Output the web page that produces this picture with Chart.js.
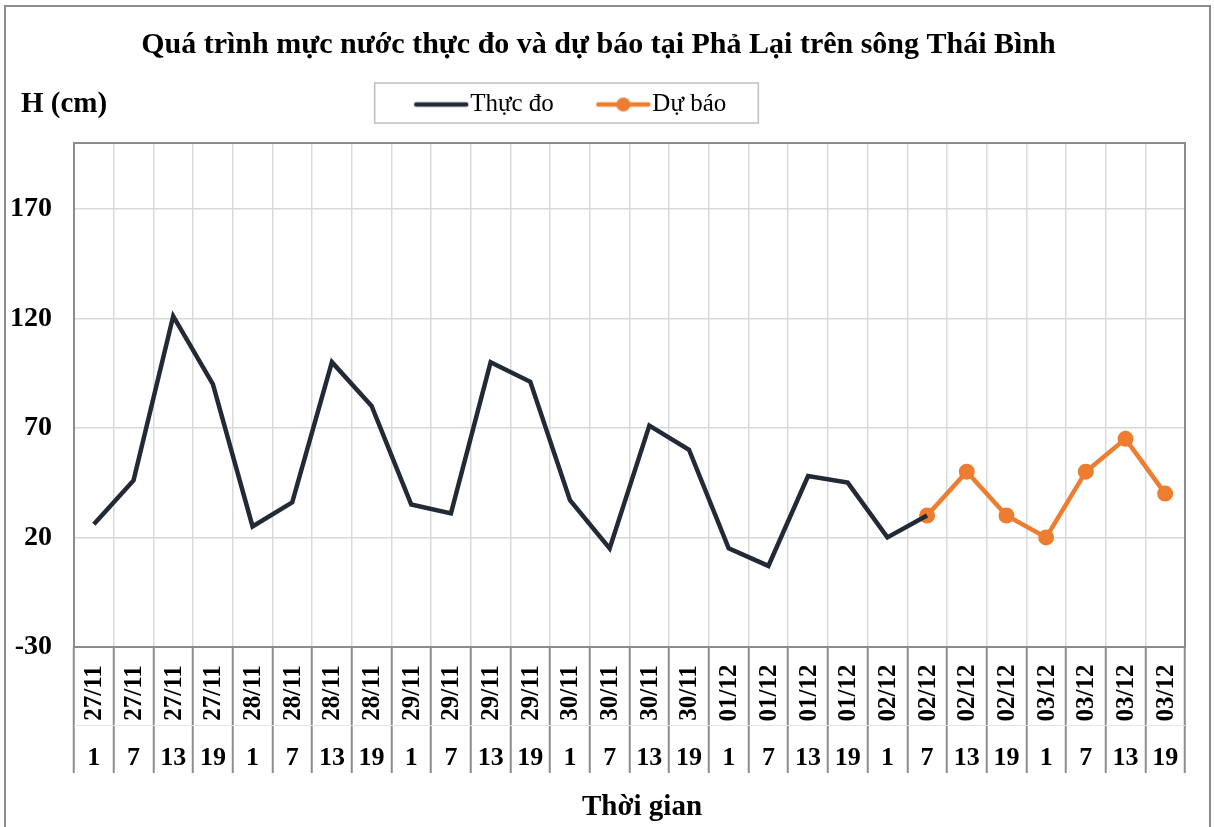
<!DOCTYPE html>
<html>
<head>
<meta charset="utf-8">
<script src="https://cdn.jsdelivr.net/npm/chart.js@4.4.1/dist/chart.umd.min.js"></script>
<style>
html,body{margin:0;padding:0;background:#fff;}
#wrap{width:1214px;height:827px;position:relative;}
</style>
</head>
<body>
<div id="wrap"><canvas id="c" width="1214" height="827"></canvas></div>
<script>
// ---------- DATA ----------
const dates = ['27/11','27/11','27/11','27/11','28/11','28/11','28/11','28/11',
               '29/11','29/11','29/11','29/11','30/11','30/11','30/11','30/11',
               '01/12','01/12','01/12','01/12','02/12','02/12','02/12','02/12',
               '03/12','03/12','03/12','03/12'];
const hours = ['1','7','13','19','1','7','13','19','1','7','13','19','1','7','13','19',
               '1','7','13','19','1','7','13','19','1','7','13','19'];
const observed = [26, 46, 121, 90, 25, 36, 100, 80, 35, 31, 100, 91, 37, 15, 71, 60,
                  15, 7, 48, 45, 20, 30, null, null, null, null, null, null];
const forecast = [null, null, null, null, null, null, null, null, null, null, null, null,
                  null, null, null, null, null, null, null, null, null, 30, 50, 30, 20, 50, 65, 40];
const yTickValues = [-30, 20, 70, 120, 170];
const seriesNames = ['Thực đo', 'Dự báo'];
const titleText = 'Quá trình mực nước thực đo và dự báo tại Phả Lại trên sông Thái Bình';
const yTitleText = 'H (cm)';
const xTitleText = 'Thời gian';

// ---------- STYLE ----------
const SERIF = '"Liberation Serif", "Times New Roman", serif';
const OBS_COLOR = '#222A35';
const FC_COLOR = '#ED7D31';
const GRID = '#D9D9D9';
const FRAME = '#8C8C8C';
const LEG_DX = -17, LEG_DY = -16, TITLE_DX = 6;

function legendImg(color, marker) {
  const cv = document.createElement('canvas');
  cv.width = 56; cv.height = 18;
  const g = cv.getContext('2d');
  g.strokeStyle = color; g.lineWidth = 4.5; g.lineCap = 'round';
  g.beginPath(); g.moveTo(3, 9); g.lineTo(53, 9); g.stroke();
  if (marker) { g.fillStyle = color; g.beginPath(); g.arc(28, 9, 7, 0, Math.PI * 2); g.fill(); }
  return cv;
}
const legendImgs = [legendImg(OBS_COLOR, false), legendImg(FC_COLOR, true)];

const decor = {
  id: 'decor',
  afterLayout(chart) {
    const lg = chart.legend;
    lg.left += LEG_DX; lg.right += LEG_DX; lg.top += LEG_DY; lg.bottom += LEG_DY;
    const tb = chart.titleBlock;
    tb.left += TITLE_DX; tb.right += TITLE_DX;
  },
  beforeDraw(chart) {
    const ctx = chart.ctx;
    ctx.save();
    ctx.fillStyle = '#fff';
    ctx.fillRect(0, 0, chart.width, chart.height);
    ctx.strokeStyle = FRAME; ctx.lineWidth = 2;
    ctx.strokeRect(5, 6, 1205, 840);
    ctx.restore();
  },
  beforeDatasetsDraw(chart) {
    const {ctx, chartArea: a} = chart;
    ctx.save();
    ctx.strokeStyle = FRAME; ctx.lineWidth = 2;
    ctx.strokeRect(a.left, a.top, a.right - a.left, a.bottom - a.top);
    ctx.restore();
  },
  afterDraw(chart) {
    const ctx = chart.ctx;
    const xs = chart.scales.x;
    ctx.save();
    // faint separator between date row and hour row
    ctx.strokeStyle = '#E4E4E4'; ctx.lineWidth = 1;
    ctx.beginPath(); ctx.moveTo(xs.left, xs.top + 78.5); ctx.lineTo(xs.right, xs.top + 78.5); ctx.stroke();
    ctx.fillStyle = '#000';
    for (let i = 0; i < dates.length; i++) {
      const x = xs.getPixelForValue(i);
      ctx.save();
      ctx.translate(x + 1, xs.top + 46);
      ctx.rotate(-Math.PI / 2);
      ctx.font = 'bold 25px ' + SERIF;
      ctx.textAlign = 'center'; ctx.textBaseline = 'middle';
      ctx.fillText(dates[i], 0, 0);
      ctx.restore();
      ctx.font = 'bold 26px ' + SERIF;
      ctx.textAlign = 'center'; ctx.textBaseline = 'middle';
      ctx.fillText(hours[i], x, xs.top + 111);
    }
    // x axis title
    ctx.font = 'bold 29px ' + SERIF;
    ctx.textAlign = 'center'; ctx.textBaseline = 'middle';
    ctx.fillText(xTitleText, 642, 808);
    // y axis title
    ctx.font = 'bold 29px ' + SERIF;
    ctx.textAlign = 'left';
    ctx.fillText(yTitleText, 21, 105);
    // legend frame
    const lg = chart.legend;
    const hb = lg.legendHitBoxes;
    if (hb && hb.length) {
      const l = hb[0].left - 50;
      const r = hb[hb.length - 1].left + hb[hb.length - 1].width + 32;
      const cy = lg.top + lg.options.labels.padding + 12.5;
      ctx.strokeStyle = '#BFBFBF'; ctx.lineWidth = 1.5;
      ctx.strokeRect(l, cy - 21.5, r - l, 40);
    }
    ctx.restore();
  }
};

new Chart(document.getElementById('c'), {
  type: 'line',
  data: {
    labels: dates.map((d, i) => d + ' ' + hours[i]),
    datasets: [
      { label: seriesNames[0], data: observed, borderColor: OBS_COLOR, backgroundColor: OBS_COLOR,
        borderWidth: 4.5, pointRadius: 0, tension: 0, spanGaps: false },
      { label: seriesNames[1], data: forecast, borderColor: FC_COLOR, backgroundColor: FC_COLOR,
        borderWidth: 4.5, pointRadius: 7, pointBorderWidth: 2, pointStyle: 'circle', tension: 0 }
    ]
  },
  options: {
    responsive: false,
    animation: false,
    events: [],
    layout: { padding: { left: 0, right: 29, top: 0, bottom: 0 } },
    plugins: {
      title: { display: true, text: titleText, color: '#000',
        font: { family: SERIF, size: 30, weight: 'bold', lineHeight: 1 },
        padding: { top: 30, bottom: -5 } },
      legend: { display: true, position: 'top',
        labels: { color: '#000', font: { family: SERIF, size: 25, lineHeight: 1 },
          usePointStyle: true, pointStyleWidth: 33, padding: 53,
          generateLabels(chart) {
            const items = Chart.defaults.plugins.legend.labels.generateLabels(chart);
            items.forEach((it, i) => { it.pointStyle = legendImgs[i]; });
            return items;
          } } },
      tooltip: { enabled: false }
    },
    scales: {
      x: {
        type: 'category', offset: true,
        grid: { offset: true, color: GRID, lineWidth: 1.5, drawTicks: true, tickLength: 126,
                tickColor: FRAME, tickWidth: 2 },
        border: { display: false },
        ticks: { display: false },
        afterFit(s) { s.height = 180; }
      },
      y: {
        min: -30, max: 200,
        afterBuildTicks(s) { s.ticks = yTickValues.map(v => ({ value: v })); },
        ticks: { color: '#000', padding: 22, font: { family: SERIF, size: 28, weight: 'bold' } },
        grid: { color: GRID, lineWidth: 1.5, drawTicks: false },
        border: { display: false },
        afterFit(s) { s.width = 74; }
      }
    }
  },
  plugins: [decor]
});
</script>
</body>
</html>
